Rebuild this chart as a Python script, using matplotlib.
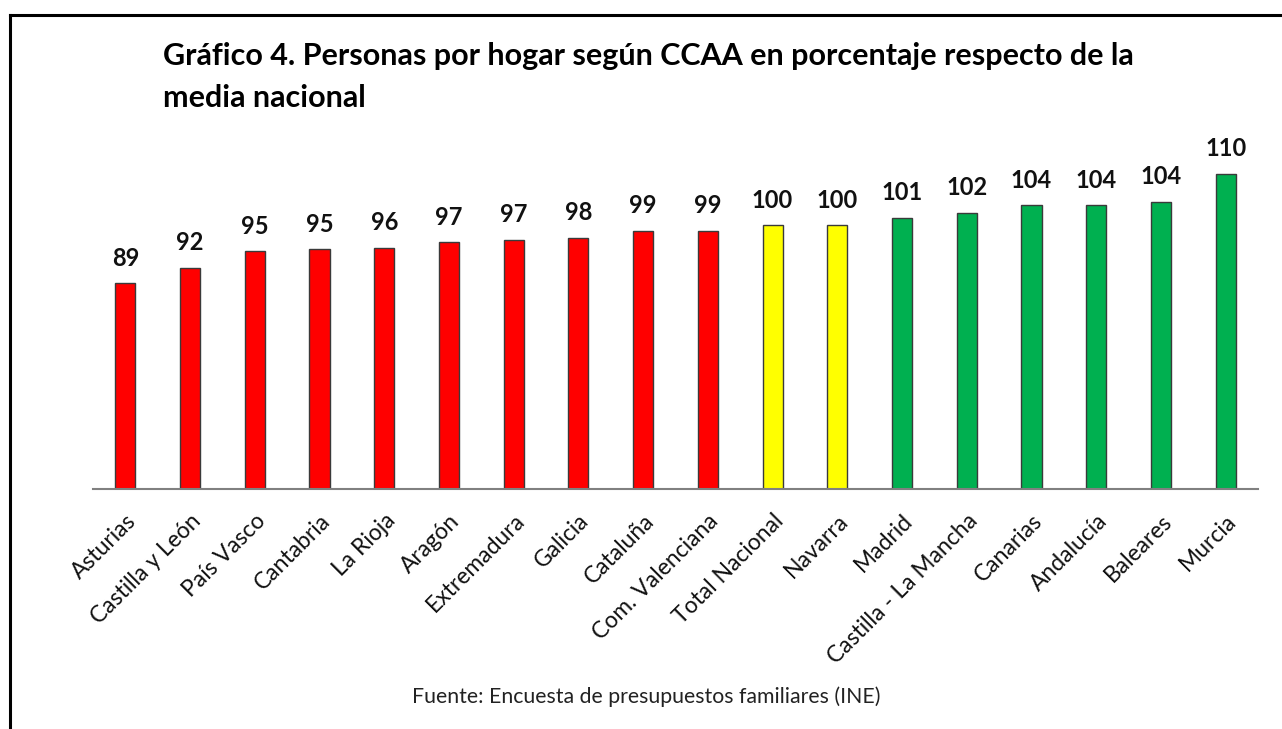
import matplotlib
matplotlib.use("Agg")
import matplotlib.pyplot as plt
from matplotlib.lines import Line2D

categories = ["Asturias", "Castilla y León", "País Vasco", "Cantabria", "La Rioja",
              "Aragón", "Extremadura", "Galicia", "Cataluña", "Com. Valenciana",
              "Total Nacional", "Navarra", "Madrid", "Castilla - La Mancha",
              "Canarias", "Andalucía", "Baleares", "Murcia"]
values = [89.0, 91.9, 95.1, 95.4, 95.7, 96.8, 97.2, 97.6, 98.9, 98.9,
          100.0, 100.0, 101.4, 102.3, 103.8, 103.8, 104.4, 109.7]
groups = ["below"] * 10 + ["equal"] * 2 + ["above"] * 6
group_colors = {"below": "#FF0000", "equal": "#FFFF00", "above": "#00B050"}

title = "Gráfico 4. Personas por hogar según CCAA en porcentaje respecto de la\nmedia nacional"
source = "Fuente: Encuesta de presupuestos familiares (INE)"

FONT = ["Lato", "DejaVu Sans"]
plt.rcParams["font.family"] = FONT

W, H = 1282, 729
fig = plt.figure(figsize=(W / 100, H / 100), dpi=100)

# axes placement in pixels
x0, x1 = 93, 1258
ymin, ymax = 50, 115
base_y = 489.3
k = 5.286
top_y = base_y - (ymax - ymin) * k
ax = fig.add_axes([x0 / W, 1 - base_y / H, (x1 - x0) / W, (base_y - top_y) / H])

xs = list(range(len(categories)))
colors = [group_colors[g] for g in groups]
ax.bar(xs, values, width=0.31, color=colors, edgecolor="#3a3a3a", linewidth=1.0,
       bottom=0, zorder=2)
ax.set_ylim(ymin, ymax)
ax.set_xlim(-0.5, len(categories) - 0.5)

for x, v in zip(xs, values):
    ax.annotate(f"{v:.0f}", xy=(x, v), xytext=(0, 12.5), textcoords="offset points",
                ha="center", va="baseline", fontsize=17, fontweight="bold", color="#111111")

for s in ["top", "right", "left"]:
    ax.spines[s].set_visible(False)
ax.spines["bottom"].set_color("#808080")
ax.spines["bottom"].set_linewidth(1.5)
ax.set_yticks([])
ax.set_xticks(xs)
ax.set_xticklabels(categories, rotation=45, ha="right", rotation_mode="anchor",
                   fontsize=16.5, color="#111111")
ax.tick_params(axis="x", length=0, pad=15)

fig.text(163 / W, 1 - 42 / H, title, ha="left", va="top", fontsize=22,
         fontweight="bold", color="#000000", linespacing=1.6)
fig.text(646 / W, 1 - 697 / H, source, ha="center", va="center", fontsize=15.3,
         color="#222222")

# outer frame (top and left edges visible)
fig.add_artist(Line2D([10 / W, 1.0], [1 - 15 / H, 1 - 15 / H], color="black", linewidth=2.2,
                      transform=fig.transFigure))
fig.add_artist(Line2D([10 / W, 10 / W], [1 - 15 / H, 0], color="black", linewidth=2.2,
                      transform=fig.transFigure))

fig.savefig("out.png", dpi=100, facecolor="white")
